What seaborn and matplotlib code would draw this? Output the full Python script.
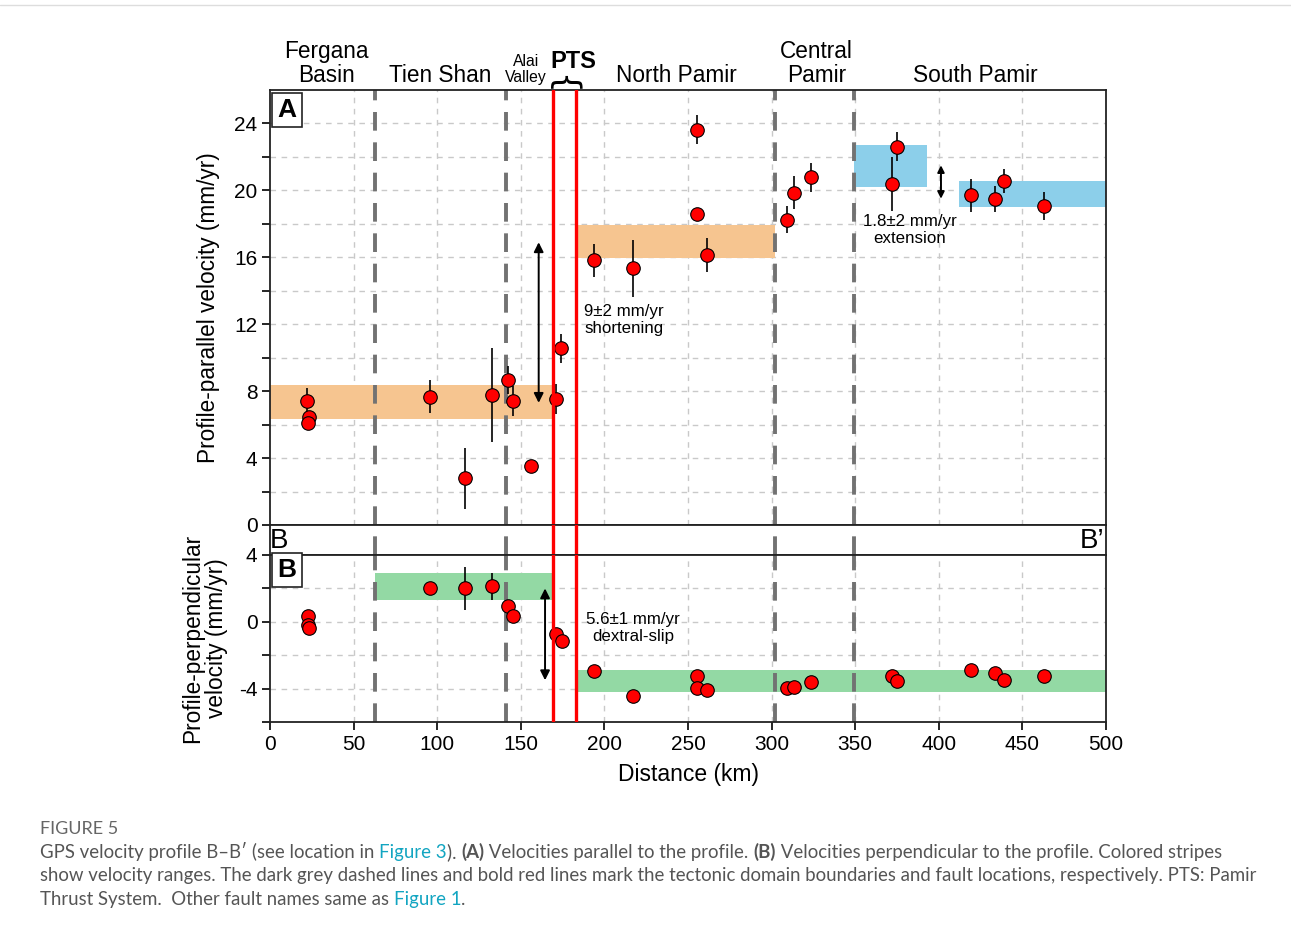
import numpy as np
import pandas as pd
import seaborn as sns
import matplotlib.pyplot as plt
import matplotlib

# data
a_x = [22.3, 23.5, 22.5, 95.9, 116.6, 133.0, 142.6, 145.5, 155.9, 171.0, 174.2,
       194.0, 216.9, 255.6, 255.6, 261.5, 309.2, 313.4, 323.3,
       371.8, 374.8, 419.3, 433.8, 439.0, 462.9]
a_v = [7.44, 6.45, 6.12, 7.68, 2.78, 7.78, 8.68, 7.40, 3.53, 7.54, 10.56,
       15.82, 15.35, 23.63, 18.56, 16.14, 18.24, 19.87, 20.79,
       20.39, 22.61, 19.70, 19.46, 20.55, 19.06]
a_err = [0.75, 0.3, 0.3, 0.97, 1.8, 2.8, 0.85, 0.9, 0.2, 0.9, 0.87,
         1.0, 1.7, 0.85, 0.3, 1.0, 0.8, 0.96, 0.87,
         1.6, 0.87, 1.0, 0.78, 0.72, 0.85]

b_x = [22.9, 22.5, 23.5, 95.9, 116.6, 133.0, 142.6, 145.5, 170.9, 174.4,
       194.0, 216.9, 255.6, 255.6, 261.5, 309.0, 313.6, 323.6,
       371.8, 374.8, 419.3, 433.8, 438.8, 462.9]
b_v = [0.32, -0.22, -0.38, 2.01, 2.01, 2.13, 0.92, 0.32, -0.74, -1.13,
       -2.96, -4.46, -3.22, -3.96, -4.10, -3.96, -3.92, -3.60,
       -3.22, -3.56, -2.87, -3.09, -3.50, -3.24]
b_err = [0, 0, 0, 0, 1.3, 0.8, 0, 0, 0, 0,
         0, 0.3, 0, 0, 0, 0, 0, 0,
         0, 0, 0, 0, 0, 0]

# velocity range stripes
a_band_x = [(0, 169), (183, 302), (349, 393), (412, 500)]
a_band_y = [(6.35, 8.35), (15.95, 17.95), (20.2, 22.7), (19.0, 20.55)]
a_band_c = ["#f6c590", "#f6c590", "#8ccfea", "#8ccfea"]
b_band_x = [(63, 169), (183, 500)]
b_band_y = [(1.3, 2.9), (-4.2, -2.9)]

domain_x = [63, 141, 302, 349]
fault_x = [169, 183]

regions = ["Fergana\nBasin", "Tien Shan", "North Pamir", "Central\nPamir", "South Pamir"]
region_x = [34, 102, 243, 327, 422]

df_a = pd.DataFrame({"dist": a_x, "vel": a_v, "err": a_err})
df_b = pd.DataFrame({"dist": b_x, "vel": b_v, "err": b_err})

sns.set_style("white")
plt.rcParams["font.family"] = ["Liberation Sans", "DejaVu Sans"]
plt.rcParams["axes.unicode_minus"] = False
plt.rcParams["text.color"] = "black"
plt.rcParams["axes.labelcolor"] = "black"
plt.rcParams["xtick.color"] = "black"
plt.rcParams["ytick.color"] = "black"

fig = plt.figure(figsize=(12.91, 9.34), dpi=100)
W, H = 1291, 934
axA = fig.add_axes([270 / W, 1 - 525 / H, 836 / W, 435 / H])
axS = fig.add_axes([270 / W, 1 - 555 / H, 836 / W, 30 / H])
axB = fig.add_axes([270 / W, 1 - 722 / H, 836 / W, 167 / H])

grid_kw = dict(color="#c9c9c9", lw=1, ls=(0, (4, 4)), zorder=0)

for ax in (axA, axS, axB):
    ax.set_xlim(0, 500)
    for s in ax.spines.values():
        s.set_color("#222222")
        s.set_linewidth(1.3)

# panel A
axA.set_ylim(0, 26)
for y in np.arange(2, 26, 2):
    axA.axhline(y, **grid_kw)
for x in range(50, 500, 50):
    axA.axvline(x, **grid_kw)
for (x0, x1), (y0, y1), c in zip(a_band_x, a_band_y, a_band_c):
    axA.fill_between([x0, x1], y0, y1, color=c, lw=0, zorder=1)
axA.errorbar(df_a["dist"], df_a["vel"], yerr=df_a["err"], fmt="none",
             ecolor="black", elinewidth=1.2, zorder=3)
sns.scatterplot(data=df_a, x="dist", y="vel", ax=axA, s=95, color="red",
                edgecolor="black", linewidth=0.8, zorder=4)

# panel B
axB.set_ylim(-6, 4)
for y in [2, 0, -2, -4]:
    axB.axhline(y, **grid_kw)
for x in range(50, 500, 50):
    axB.axvline(x, **grid_kw)
for (x0, x1), (y0, y1) in zip(b_band_x, b_band_y):
    axB.fill_between([x0, x1], y0, y1, color="#93d9a4", lw=0, zorder=1)
axB.errorbar(df_b["dist"], df_b["vel"], yerr=df_b["err"], fmt="none",
             ecolor="black", elinewidth=1.2, zorder=3)
sns.scatterplot(data=df_b, x="dist", y="vel", ax=axB, s=95, color="red",
                edgecolor="black", linewidth=0.8, zorder=4)

# boundaries and faults through all three axes
for ax in (axA, axS, axB):
    for x in domain_x:
        ax.axvline(x, color="#727272", lw=2.8, ls=(0, (4.8, 3)), zorder=2)
    for x in fault_x:
        ax.axvline(x, color="#ff0000", lw=2.4, zorder=5)

# ticks
axA.set_yticks(np.arange(0, 25, 4))
axA.set_yticks(np.arange(2, 26, 4), minor=True)
axA.set_xticks([])
axA.tick_params(axis="y", which="both", direction="out", length=6, width=1.2,
                labelsize=15, left=True, pad=3)
axB.set_yticks([4, 0, -4])
axB.set_yticks([2, -2, -6], minor=True)
axB.set_xticks(range(0, 501, 50))
axB.tick_params(axis="both", which="both", direction="out", length=6, width=1.2,
                labelsize=15, left=True, bottom=True, pad=3)
axS.set_xticks([])
axS.set_yticks([])
axS.set_ylim(0, 1)

axA.set_xlabel("")
axA.set_ylabel("Profile-parallel velocity (mm/yr)", fontsize=16.3, labelpad=10)
axB.set_ylabel("Profile-perpendicular\nvelocity (mm/yr)", fontsize=16.3, labelpad=8,
               linespacing=1.05)
axB.set_xlabel("Distance (km)", fontsize=16.5, labelpad=7)

# panel letters
for ax in (axA, axB):
    ax.text(0.009, 0.982, "A" if ax is axA else "B", transform=ax.transAxes,
            fontsize=19, fontweight="bold", va="top", ha="left",
            bbox=dict(boxstyle="square,pad=0.2", fc="white", ec="#222222", lw=1.2),
            zorder=6)
axS.text(0.0, 0.45, "B", transform=axS.transAxes, fontsize=20, va="center", ha="left")
axS.text(0.998, 0.45, "B\u2019", transform=axS.transAxes, fontsize=20, va="center", ha="right")

# arrows and annotations
arr = dict(arrowstyle="<|-|>", color="black", lw=1.4, mutation_scale=14, shrinkA=0, shrinkB=0)
axA.annotate("", xy=(160.7, 16.9), xytext=(160.7, 7.3), arrowprops=arr, zorder=6)
axA.annotate("", xy=(401.3, 21.5), xytext=(401.3, 19.5),
             arrowprops=dict(arr, mutation_scale=10), zorder=6)
axB.annotate("", xy=(164.5, 2.0), xytext=(164.5, -3.5), arrowprops=arr, zorder=6)
axA.text(188, 13.2, "9\u00b12 mm/yr\nshortening", fontsize=12.2, va="top", ha="left",
         linespacing=1.15, zorder=6)
axA.text(354.5, 18.6, "1.8\u00b12 mm/yr\nextension", fontsize=12.2, va="top", ha="left",
         linespacing=1.15, zorder=6, multialignment="center")
axB.text(189, 0.6, "5.6\u00b11 mm/yr\ndextral-slip", fontsize=12.2, va="top", ha="left",
         linespacing=1.15, zorder=6, multialignment="center")

# region names above panel A
tr = matplotlib.transforms.blended_transform_factory(axA.transData, axA.transAxes)
for name, x in zip(regions, region_x):
    axA.text(x, 1.008, name, transform=tr, fontsize=16.3, ha="center", va="bottom",
             linespacing=1.02, clip_on=False)
axA.text(153, 1.012, "Alai\nValley", transform=tr, fontsize=11.3, ha="center",
         va="bottom", linespacing=1.1, clip_on=False)
axA.text(181.5, 1.04, "PTS", transform=tr, fontsize=17, fontweight="bold",
         ha="center", va="bottom", clip_on=False)
axA.text(175.5, 1.004, "}", transform=tr, fontsize=24, rotation=90, ha="center",
         va="bottom", clip_on=False, fontfamily="DejaVu Sans")

# caption
fig.add_artist(matplotlib.lines.Line2D([0, 1], [1 - 5 / H, 1 - 5 / H], color="#dddddd", lw=1))
cap_font = dict(fontfamily="Lato", fontsize=13.4)
grey = "#555555"
teal = "#12a5c1"
fig.text(40 / W, 1 - 834 / H, "FIGURE 5", color="#666666", fontfamily="Lato",
         fontsize=13, va="baseline")
lines = [
    [("GPS velocity profile B\u2013B\u2032 (see location in ", grey, "normal"),
     ("Figure 3", teal, "normal"), ("). ", grey, "normal"), ("(A)", grey, "bold"),
     (" Velocities parallel to the profile. ", grey, "normal"), ("(B)", grey, "bold"),
     (" Velocities perpendicular to the profile. Colored stripes", grey, "normal")],
    [("show velocity ranges. The dark grey dashed lines and bold red lines mark the tectonic "
      "domain boundaries and fault locations, respectively. PTS: Pamir", grey, "normal")],
    [("Thrust System.  Other fault names same as ", grey, "normal"),
     ("Figure 1", teal, "normal"), (".", grey, "normal")],
]
renderer = fig.canvas.get_renderer()
for i, pieces in enumerate(lines):
    x = 40 / W
    y = 1 - (858 + 23.5 * i) / H
    for s, c, w in pieces:
        t = fig.text(x, y, s, color=c, fontweight=w, va="baseline", **cap_font)
        x += t.get_window_extent(renderer).width / W

plt.savefig("out.png", dpi=100)
